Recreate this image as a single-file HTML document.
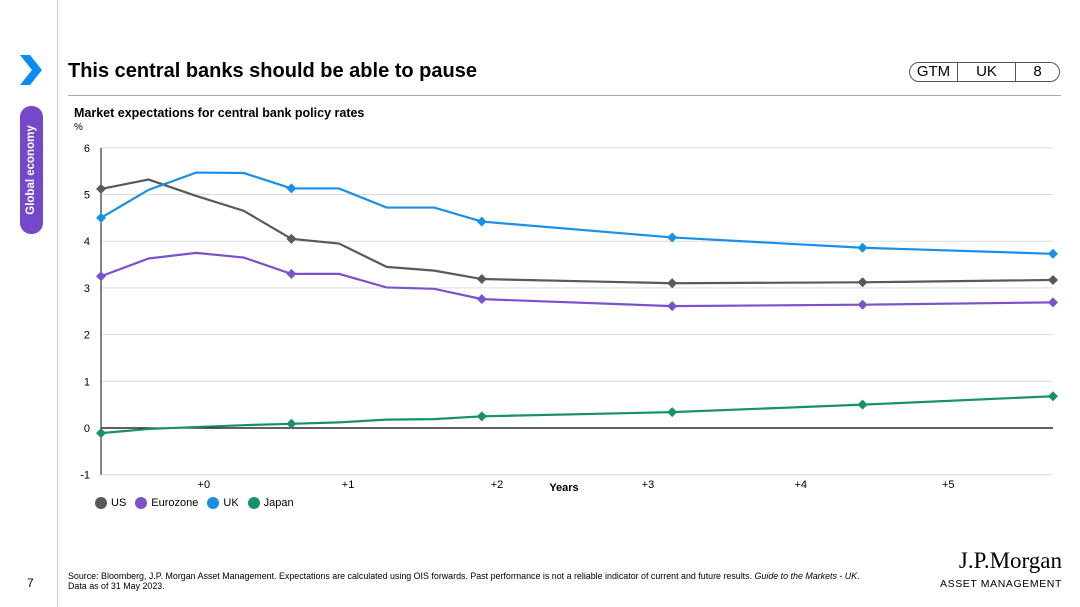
<!DOCTYPE html>
<html><head><meta charset="utf-8"><style>
body{margin:0;width:1080px;height:607px;background:#fff;font-family:"Liberation Sans",sans-serif;position:relative;overflow:hidden}
.abs{position:absolute}
</style></head><body>
<div class="abs" style="left:57px;top:0;width:1px;height:607px;background:#ccc"></div>
<svg class="abs" style="left:18px;top:53px" width="26" height="34"><path d="M2 2 L12 2 L24 17 L12 32 L2 32 L14 17 Z" fill="#0a8df0"/></svg>
<div class="abs" style="left:20px;top:106px;width:23px;height:128px;background:#7448c8;border-radius:11px"></div>
<div class="abs" style="left:-32px;top:163px;width:128px;height:14px;color:#fff;font-size:11.5px;font-weight:bold;text-align:center;transform:rotate(-90deg)">Global economy</div>
<div class="abs" style="left:68px;top:60px;font-size:20px;font-weight:bold;color:#000">This central banks should be able to pause</div>
<div class="abs" style="left:68px;top:95px;width:993px;height:1px;background:#aaa"></div>
<div class="abs" style="left:909px;top:62px;width:151px;height:20px;border:1px solid #555;border-radius:11px;font-size:15px;display:flex;box-sizing:border-box">
<span style="width:47px;text-align:center;border-right:1px solid #555;line-height:18px">GTM</span>
<span style="width:57px;text-align:center;border-right:1px solid #555;line-height:18px">UK</span>
<span style="flex:1;text-align:center;line-height:18px">8</span></div>
<div class="abs" style="left:74px;top:106px;font-size:12.5px;font-weight:bold">Market expectations for central bank policy rates</div>
<div class="abs" style="left:74px;top:122px;font-size:10px">%</div>
<svg id="chart" class="abs" style="left:0;top:0" width="1080" height="520"></svg>
<div class="abs" style="left:95px;top:497px;font-size:11px;display:flex;gap:0;align-items:center">
<span style="display:flex;align-items:center;margin-right:9px"><i style="width:12px;height:12px;border-radius:6px;background:#595959;display:inline-block;margin-right:4px"></i>US</span>
<span style="display:flex;align-items:center;margin-right:9px"><i style="width:12px;height:12px;border-radius:6px;background:#7b52c7;display:inline-block;margin-right:4px"></i>Eurozone</span>
<span style="display:flex;align-items:center;margin-right:9px"><i style="width:12px;height:12px;border-radius:6px;background:#1a8fe8;display:inline-block;margin-right:4px"></i>UK</span>
<span style="display:flex;align-items:center"><i style="width:12px;height:12px;border-radius:6px;background:#17906b;display:inline-block;margin-right:4px"></i>Japan</span></div>
<div class="abs" style="left:27px;top:576px;font-size:12px">7</div>
<div class="abs" style="left:68px;top:572px;font-size:8.9px;line-height:9.5px;color:#000;white-space:nowrap">Source: Bloomberg, J.P. Morgan Asset Management. Expectations are calculated using OIS forwards. Past performance is not a reliable indicator of current and future results. <i>Guide to the Markets - UK</i>.<br>Data as of 31 May 2023.</div>
<div class="abs" style="left:900px;top:548px;width:162px;text-align:right;white-space:nowrap">
<div style="font-family:'Liberation Serif',serif;font-size:23px;line-height:25px">J.P.Morgan</div>
<div style="font-size:10.5px;letter-spacing:0.6px;margin-top:5px">ASSET MANAGEMENT</div></div>
<script>
const tvals=[0,1,2,3,4,5,6,7,8,12,16,20];
const usVals=[5.12,5.32,4.97,4.65,4.05,3.95,3.45,3.37,3.19,3.1,3.12,3.17];
const euroVals=[3.25,3.63,3.75,3.65,3.3,3.3,3.01,2.98,2.76,2.61,2.64,2.69];
const ukVals=[4.5,5.1,5.47,5.46,5.13,5.13,4.72,4.72,4.42,4.08,3.86,3.73];
const japanVals=[-0.11,-0.02,0.02,0.06,0.09,0.12,0.18,0.19,0.25,0.34,0.5,0.68];
const markerIdx=[0,4,8,9,10,11];
const yTicks=[-1,0,1,2,3,4,5,6];
const xTickPos=[2.16,5.19,8.32,11.49,14.7,17.8];
const xTickLabels=["+0","+1","+2","+3","+4","+5"];
const NS="http://www.w3.org/2000/svg",svg=document.getElementById('chart');
const X=t=>101+t*47.6, Y=v=>428-v*46.7;
function mk(tag,a){const e=document.createElementNS(NS,tag);for(const k in a)e.setAttribute(k,a[k]);svg.appendChild(e);return e;}
yTicks.forEach(v=>{
 const g=mk('line',{x1:101,x2:1053,y1:Y(v),y2:Y(v),stroke:v===0?'#000':'#ddd','stroke-width':v===0?1.2:1});
 
 
 const t=mk('text',{x:90,y:Y(v)+4,'font-size':11,'text-anchor':'end','font-family':'Liberation Sans'});t.textContent=v;
 
 
});
const ax=mk('line',{x1:101,x2:101,y1:Y(6),y2:Y(-1),stroke:'#333','stroke-width':1.2});


xTickPos.forEach((p,i)=>{
 const t=mk('text',{x:X(p),y:488,'font-size':11,'text-anchor':'middle','font-family':'Liberation Sans'});t.textContent=xTickLabels[i];
 
 
});
const xt=mk('text',{x:564,y:491,'font-size':11,'font-weight':'bold','text-anchor':'middle','font-family':'Liberation Sans'});xt.textContent='Years';


[[usVals,'#595959','us'],[euroVals,'#7b52c7','eurozone'],[ukVals,'#1a8fe8','uk'],[japanVals,'#17906b','japan']].forEach(([vals,c,n])=>{
 const p=mk('polyline',{points:vals.map((v,i)=>X(tvals[i])+','+Y(v)).join(' '),fill:'none',stroke:c,'stroke-width':2.2});
 
 
 markerIdx.forEach(i=>{const x=X(tvals[i]),y=Y(vals[i]);
  const m=mk('path',{d:`M${x} ${y-5}L${x+5} ${y}L${x} ${y+5}L${x-5} ${y}Z`,fill:c});
  
  
 });
});
</script>
</body></html>
